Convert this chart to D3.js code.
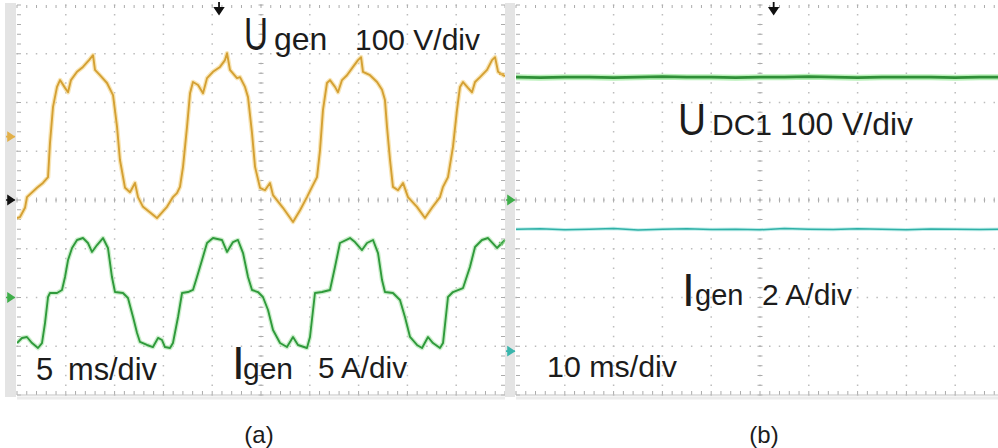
<!DOCTYPE html>
<html><head><meta charset="utf-8">
<script src="https://cdn.jsdelivr.net/npm/d3@7"></script>
<style>
body{margin:0;background:#fff}
svg{display:block}
text{font-family:"Liberation Sans",Arial,sans-serif;fill:#1c1c1c}
</style>
</head><body>
<svg id="c" width="998" height="448"></svg>
<script>
// ---------- data ----------
// (a) generator voltage Ugen, time in ms, volts
const ugenTime = [0,0.31,0.82,1.02,2.05,2.66,3.18,3.38,3.69,4.10,4.41,4.92,5.23,5.53,6.15,6.76,7.38,7.79,7.99,8.50,9.22,9.84,10.25,10.55,11.07,11.58,12.09,12.40,12.91,14.34,15.37,15.98,16.39,16.70,17.01,17.42,17.73,18.03,18.55,19.06,19.47,20.08,20.80,21.31,21.52,21.82,22.54,22.85,23.36,23.67,24.08,24.39,24.90,25.41,25.92,26.23,27.25,28.28,29.00,29.71,30.23,30.74,31.05,31.35,31.76,32.07,32.58,32.89,33.30,33.81,34.43,34.94,35.25,35.45,36.17,36.89,37.40,37.70,37.91,38.22,38.52,39.04,39.55,40.06,40.98,41.80,42.52,43.34,43.65,44.16,44.67,45.08,45.39,45.70,46.21,46.62,46.93,47.44,48.16,48.67,48.98,49.29,49.80,50.00];
const ugenVolts = [-167,-165,-146,-124,-105,-95,-83,-13,61,102,116,100,91,116,133,143,157,167,137,126,110,85,20,-48,-105,-114,-95,-124,-144,-167,-144,-124,-116,-103,-62,20,89,112,106,89,120,133,143,157,171,137,120,122,102,81,7,-62,-105,-110,-95,-120,-146,-175,-151,-124,-103,-83,-27,55,110,116,102,91,116,126,143,157,163,133,126,112,96,75,20,-48,-103,-110,-95,-124,-144,-167,-146,-124,-103,-83,-21,55,102,112,100,91,112,122,137,157,163,133,126,124];
// (a) generator current Igen, time in ms, amperes
const igenTime = [0,0.51,1.02,1.54,2.15,2.56,2.87,3.18,3.38,4.10,4.61,4.92,5.23,5.64,6.15,6.76,7.27,7.68,8.20,8.81,9.32,9.73,10.04,10.86,11.37,11.89,12.30,12.60,13.32,13.93,14.45,14.86,15.16,15.68,15.98,16.50,16.91,17.52,18.03,18.44,18.96,19.47,20.08,21.00,21.52,22.13,22.64,23.16,23.67,24.08,24.69,25.20,25.72,26.23,26.95,27.66,28.28,28.79,29.71,30.02,30.53,31.25,32.07,32.58,33.09,34.12,34.63,35.35,35.86,36.48,36.99,37.40,37.70,38.52,39.24,39.75,40.27,40.98,41.50,42.11,42.62,43.34,43.65,44.16,44.67,45.70,46.41,46.93,47.64,48.26,49.18,49.69,50.00];
const igenAmps = [-4.67,-4.15,-4.05,-4.67,-5.18,-4.67,-2.62,0.05,0.46,0.46,0.77,2.10,3.85,5.08,5.90,6.10,5.59,4.67,5.38,6.10,5.08,2.10,0.56,0.46,-0.05,-2.0,-3.64,-4.56,-4.87,-5.08,-4.15,-4.36,-5.08,-5.18,-4.67,-2.0,0.46,0.56,0.77,2.10,3.85,5.59,6.10,5.90,4.67,5.69,5.90,4.56,2.10,0.77,0.56,0.05,-1.28,-3.33,-4.67,-5.08,-4.05,-4.87,-5.18,-4.05,0.46,0.56,0.77,3.13,5.59,6.10,5.69,4.87,5.59,5.90,4.56,1.79,0.56,0.46,-0.26,-2.0,-4.05,-4.87,-5.18,-4.05,-4.67,-5.18,-4.67,0.05,0.56,0.97,3.13,5.18,5.90,6.10,5.08,5.59,5.90];
// (b) DC-link voltage UDC1 and generator current Igen, time in ms
const timeB = [0,5,10,15,20,25,30,35,40,45,50,55,60,65,70,75,80,85,90,95,100];
const udc1Volts = [252,251,252,252,251,252,253,252,252,251,252,252,253,252,251,252,252,252,251,252,252];
const igenBAmps = [5.0,5.02,4.98,5.0,5.03,4.97,5.0,5.02,4.99,5.0,4.98,5.03,5.0,4.99,5.02,5.0,4.98,5.01,5.0,4.99,5.0];
const panelLabels = ["(a)","(b)"];

// ---------- layout ----------
const svg = d3.select("#c");
const DIV = 48.75, TOP = 5, BOT = 395;
const panels = [
  {x0:17, x1:505, tmax:50, strip:[5,16]},
  {x0:516, x1:1004, tmax:100, strip:[505,515]}
];
const yDiv = d3.scaleLinear().domain([-4,4]).range([BOT,TOP]);
// channel scale: value per division, ground offset in divisions
const chan = (perDiv, off) => d3.scaleLinear().domain([(-4-off)*perDiv,(4-off)*perDiv]).range([BOT,TOP]);

const defs = svg.append("defs");
defs.append("clipPath").attr("id","clipA").append("rect").attr("x",17).attr("y",TOP).attr("width",488).attr("height",BOT-TOP);
defs.append("clipPath").attr("id","clipB").append("rect").attr("x",516).attr("y",TOP).attr("width",482).attr("height",BOT-TOP);

panels.forEach((p,pi)=>{
  const g = svg.append("g");
  const x = d3.scaleLinear().domain([0,p.tmax]).range([p.x0,p.x1]);
  p.x = x;
  // grey side strip
  g.append("rect").attr("x",p.strip[0]).attr("y",TOP-2).attr("width",p.strip[1]-p.strip[0]).attr("height",BOT-TOP+4).attr("fill","#e4e4e4");
  const minor = p.tmax/50;
  const xs = d3.range(0,p.tmax+1e-6,minor);
  const ys = d3.range(-4,4+1e-6,0.2);
  const majX = d3.range(0,p.tmax+1e-6,p.tmax/10);
  const dots = [];
  majX.forEach((t,i)=>{ if(i>0 && i<10) ys.forEach(v=>dots.push([x(t),yDiv(v)])); });
  d3.range(-3,4).forEach(v=>xs.forEach(t=>dots.push([x(t),yDiv(v)])));
  g.append("g").selectAll("rect").data(dots).join("rect")
    .attr("x",d=>d[0]-0.75).attr("y",d=>d[1]-0.75).attr("width",1.5).attr("height",1.5).attr("fill","#bcbcbc");
  const tk = g.append("g").attr("stroke","#ababab").attr("stroke-width",1);
  xs.forEach(t=>{
    tk.append("line").attr("x1",x(t)).attr("x2",x(t)).attr("y1",yDiv(0)-2.5).attr("y2",yDiv(0)+2.5);
    tk.append("line").attr("x1",x(t)).attr("x2",x(t)).attr("y1",TOP).attr("y2",TOP+3);
    tk.append("line").attr("x1",x(t)).attr("x2",x(t)).attr("y1",BOT-4).attr("y2",BOT);
  });
  ys.forEach(v=>{
    tk.append("line").attr("x1",x(p.tmax/2)-2.5).attr("x2",x(p.tmax/2)+2.5).attr("y1",yDiv(v)).attr("y2",yDiv(v));
    tk.append("line").attr("x1",p.x0).attr("x2",p.x0+4).attr("y1",yDiv(v)).attr("y2",yDiv(v));
    tk.append("line").attr("x1",p.x1-4).attr("x2",p.x1).attr("y1",yDiv(v)).attr("y2",yDiv(v));
  });
  g.append("line").attr("x1",p.x0).attr("x2",Math.min(p.x1,998)).attr("y1",BOT).attr("y2",BOT).attr("stroke","#c4c4c4").attr("stroke-width",1.2);
  g.append("line").attr("x1",p.x0).attr("x2",Math.min(p.x1,998)).attr("y1",BOT+3).attr("y2",BOT+3).attr("stroke","#ececec").attr("stroke-width",3);
  svg.append("text").attr("x",(pi===0?259:764)).attr("y",443).attr("text-anchor","middle").attr("font-size",24).text(panelLabels[pi]);
});

function trace(clip, xs, ys, halo, core, hw, cw){
  const pts = d3.zip(xs,ys);
  const line = d3.line().x(d=>d[0]).y(d=>d[1]);
  const g = svg.append("g").attr("clip-path",`url(#${clip})`).attr("fill","none").attr("stroke-linejoin","round");
  g.append("path").attr("d",line(pts)).attr("stroke",halo).attr("stroke-width",hw).attr("opacity",0.8);
  g.append("path").attr("d",line(pts)).attr("stroke",core).attr("stroke-width",cw);
}

const xA = panels[0].x, xB = panels[1].x;
const yUgen = chan(100, 1.3), yIgen = chan(5, -2);
trace("clipA", ugenTime.map(xA), ugenVolts.map(yUgen), "#f6dfa4", "#d4a033", 4.5, 1.9);
trace("clipA", igenTime.map(xA), igenAmps.map(yIgen), "#bfeabf", "#2f9a3b", 4.5, 1.9);
const yUdc = chan(100, 0), yIgenB = chan(2, -3.1);
trace("clipB", timeB.map(xB), udc1Volts.map(yUdc), "#a6eca6", "#2f8f37", 6, 2.6);
trace("clipB", timeB.map(xB), igenBAmps.map(yIgenB), "#b3ebe7", "#2fb0a6", 3.5, 1.5);

function marker(cx, cy, col){
  svg.append("path").attr("d",`M${cx-5},${cy}H${cx+4}M${cx-3},${cy-4}L${cx+3},${cy}L${cx-3},${cy+4}Z`)
    .attr("stroke",col).attr("stroke-width",1.6).attr("fill",col);
}
marker(11, yUgen(0), "#e2b04a");
marker(11, yDiv(0), "#111");
marker(11, yIgen(0), "#3fae4a");
marker(511, yUdc(0), "#3fae4a");
marker(511, yIgenB(0), "#3ab5ac");
svg.append("path").attr("d","M499,74h5").attr("stroke","#e2b04a").attr("stroke-width",2);
svg.append("path").attr("d","M499,242l3,3l3,-5").attr("stroke","#6dc36d").attr("stroke-width",1.2).attr("fill","none");
function trig(cx){
  svg.append("path").attr("d",`M${cx},2V12M${cx-4},8L${cx},14L${cx+4},8Z`).attr("stroke","#111").attr("stroke-width",1.8).attr("fill","#111");
}
trig(xA(20.7)); trig(xB(52.8));

function lab(x,y,size,t,len){
  const e = svg.append("text").attr("x",x).attr("y",y).attr("font-size",size).text(t);
  if(len) e.attr("textLength",len).attr("lengthAdjust","spacingAndGlyphs");
  return e;
}
// panel (a)
lab(244,50,46,"U",24);
lab(274,50,32,"gen");
lab(355,50,30,"100 V/div",125);
lab(36,380,31,"5");
lab(68,380,31,"ms/div",89);
lab(232,379,46,"I");
lab(243,379,30,"gen");
lab(318,378,29,"5 A/div",89);
// panel (b)
lab(678,135,45,"U",28);
lab(712,135,30,"DC1",60);
lab(780,135,32,"100 V/div",133);
lab(682,306,46,"I");
lab(695,305,29,"gen");
lab(762,305,30,"2 A/div",90);
lab(547,377,30,"10 ms/div",130);
</script>
</body></html>
